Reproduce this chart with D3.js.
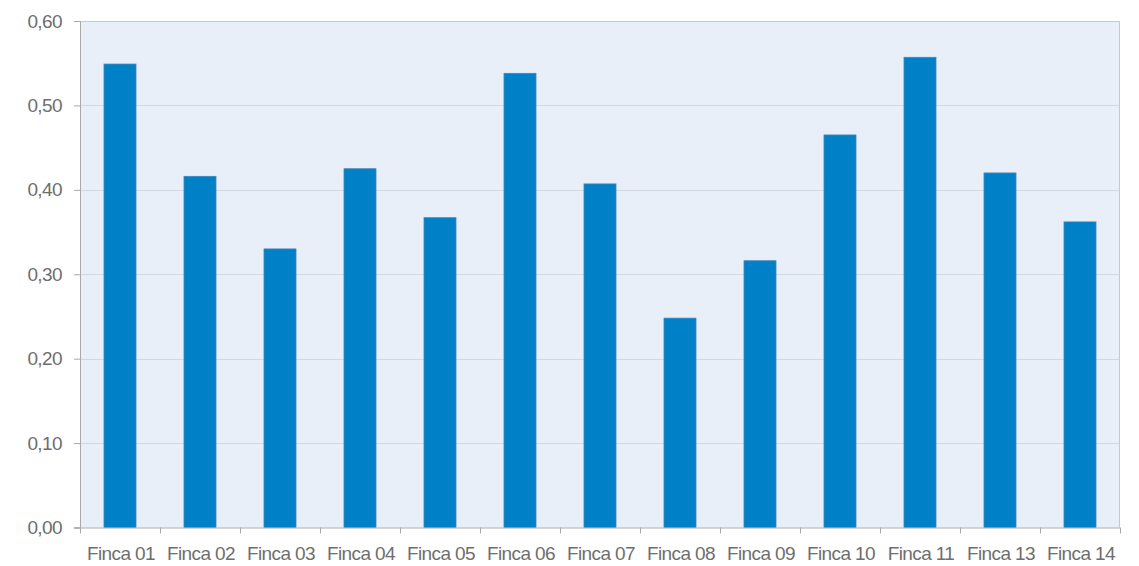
<!DOCTYPE html>
<html><head><meta charset="utf-8">
<script src="https://cdn.jsdelivr.net/npm/d3@7"></script>
<style>body{margin:0;background:#fff;} text{font-family:"Liberation Sans",Arial,sans-serif;}</style>
</head><body><svg id="c" width="1139" height="566"></svg>
<script>
const categories = ["Finca 01","Finca 02","Finca 03","Finca 04","Finca 05","Finca 06","Finca 07","Finca 08","Finca 09","Finca 10","Finca 11","Finca 13","Finca 14"];
const values = [0.549,0.416,0.330,0.425,0.367,0.538,0.407,0.248,0.316,0.465,0.557,0.420,0.362];
const yTicks = [0,0.1,0.2,0.3,0.4,0.5,0.6];

const svg = d3.select("#c");
const L=80, R=1120, T=21, B=527.5;
const x = d3.scaleBand().domain(categories).range([L,R]).paddingInner(0.6).paddingOuter(0.3);
const y = d3.scaleLinear().domain([0,0.6]).range([B,T]);
const fmt = d => d3.format(".2f")(d).replace(".",",");

svg.append("rect").attr("x",L).attr("y",T).attr("width",R-L).attr("height",B-T).attr("fill","#E9EFF8");
svg.append("g").selectAll("line").data(yTicks.slice(1)).join("line")
  .attr("x1",L).attr("x2",R).attr("y1",d=>Math.round(y(d))+0.5).attr("y2",d=>Math.round(y(d))+0.5)
  .attr("stroke",d=>d===0.6?"#C6C9CE":"#D3D7DF").attr("stroke-width",1);
svg.append("line").attr("x1",R-0.5).attr("x2",R-0.5).attr("y1",T).attr("y2",B).attr("stroke","#C6C9CE");

svg.append("g").selectAll("rect").data(values).join("rect")
  .attr("x",(d,i)=>x(categories[i])).attr("width",x.bandwidth())
  .attr("y",d=>y(d)).attr("height",d=>B-y(d))
  .attr("fill","#0080C6").attr("stroke","#3F86B8").attr("stroke-width",0.8);

const yAxis = svg.append("g").attr("transform",`translate(${L},0)`)
  .call(d3.axisLeft(y).tickValues(yTicks).tickFormat(fmt).tickSize(6).tickPadding(6));
const xb = d3.scaleBand().domain(categories).range([L,R]);
const xAxis = svg.append("g").attr("transform",`translate(0,${B})`)
  .call(d3.axisBottom(xb).tickSize(0).tickPadding(19));
// boundary ticks
svg.append("g").selectAll("line").data(d3.range(categories.length+1)).join("line")
  .attr("x1",i=>L+i*xb.step()+0.5).attr("x2",i=>L+i*xb.step()+0.5)
  .attr("y1",B).attr("y2",B+6).attr("stroke","#A9A9A9");
[yAxis,xAxis].forEach(g=>{
  g.selectAll("path.domain").attr("stroke","#A9A9A9");
  g.selectAll(".tick line").attr("stroke","#A9A9A9");
  g.selectAll("text").attr("fill","#6E6E6E").style("font-size","19px").style("letter-spacing","-0.6px")
   .style("font-family",'"Liberation Sans",Arial,sans-serif');
});
yAxis.selectAll("text").attr("dx","-6");
xAxis.selectAll("text").attr("dx","1");
xAxis.select("path.domain").remove();
svg.append("line").attr("x1",L-6).attr("x2",R).attr("y1",B+0.5).attr("y2",B+0.5).attr("stroke","#A9A9A9");
</script></body></html>
